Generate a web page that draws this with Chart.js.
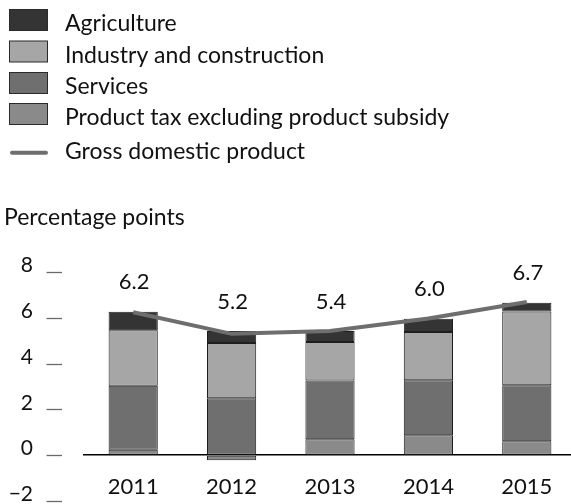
<!DOCTYPE html>
<html>
<head>
<meta charset="utf-8">
<script src="https://cdn.jsdelivr.net/npm/chart.js@4.4.1/dist/chart.umd.min.js"></script>
<style>
  html, body { margin: 0; padding: 0; background: #ffffff; overflow: hidden; }
  #wrap { position: relative; width: 576px; height: 504px; }
</style>
</head>
<body>
<div id="wrap"><canvas id="c"></canvas></div>
<script>
// ---- data ----
const categories = ['2011', '2012', '2013', '2014', '2015'];
const productTax = [0.24, -0.22, 0.70, 0.87, 0.61];
const services = [2.79, 2.49, 2.56, 2.40, 2.44];
const industry = [2.43, 2.41, 1.68, 2.11, 3.23];
const agriculture = [0.80, 0.52, 0.48, 0.58, 0.38];
const gdp = [6.24, 5.30, 5.42, 5.97, 6.69];
const gdpLabels = ['6.2', '5.2', '5.4', '6.0', '6.7'];
const yTickValues = [-2, 0, 2, 4, 6, 8];
const yAxisTitle = 'Percentage points';

const FONT = 'Lato, "Open Sans", sans-serif';
const TEXT = '#111111';

const colors = {
  agriculture: '#343434',
  industry: '#a6a6a6',
  services: '#6f6f6f',
  tax: '#8a8a8a',
  gdp: '#6e6e6e',
  border: '#1e1e1e'
};

const datasets = [
  { type: 'bar', label: 'Product tax excluding product subsidy', data: productTax, backgroundColor: colors.tax },
  { type: 'bar', label: 'Services', data: services, backgroundColor: colors.services },
  { type: 'bar', label: 'Industry and construction', data: industry, backgroundColor: colors.industry },
  { type: 'bar', label: 'Agriculture', data: agriculture, backgroundColor: colors.agriculture },
].map(d => Object.assign(d, {
  borderColor: colors.border, borderWidth: 1, borderSkipped: false,
  barPercentage: 0.5, categoryPercentage: 1.0, order: 1, stack: 'sectors'
}));
datasets.push({
  type: 'line', label: 'Gross domestic product', data: gdp,
  borderColor: colors.gdp, borderWidth: 4, pointRadius: 0, tension: 0,
  fill: false, order: 0
});

const legendOrder = ['Agriculture', 'Industry and construction', 'Services',
  'Product tax excluding product subsidy', 'Gross domestic product'];

const decorPlugin = {
  id: 'decor',
  afterDraw(chart) {
    const ctx = chart.ctx;
    const ys = chart.scales.y, xs = chart.scales.x;
    ctx.save();
    // legend
    ctx.font = '23px ' + FONT;
    ctx.fillStyle = TEXT;
    ctx.textBaseline = 'alphabetic';
    ctx.textAlign = 'left';
    const rowTops = [9.5, 41, 72.5, 103.5];
    const baselines = [30.7, 62.5, 94.2, 125, 159];
    legendOrder.forEach((name, i) => {
      const ds = chart.data.datasets.find(d => d.label === name);
      if (ds.type === 'bar') {
        ctx.fillStyle = ds.backgroundColor;
        ctx.fillRect(9.5, rowTops[i], 38, 21);
        ctx.strokeStyle = '#2a2a2a';
        ctx.lineWidth = 1;
        ctx.strokeRect(9.5, rowTops[i], 38, 21);
      } else {
        ctx.strokeStyle = ds.borderColor;
        ctx.lineWidth = 4;
        ctx.lineCap = 'round';
        ctx.beginPath();
        ctx.moveTo(12, 152.7);
        ctx.lineTo(46, 152.7);
        ctx.stroke();
        ctx.lineCap = 'butt';
      }
      ctx.fillStyle = TEXT;
      ctx.fillText(name, 65, baselines[i]);
    });
    // axis title
    ctx.fillText(yAxisTitle, 4, 225);
    // short y tick marks
    ctx.strokeStyle = '#6a6a6a';
    ctx.lineWidth = 1.3;
    ys.ticks.forEach(t => {
      const py = Math.round(ys.getPixelForValue(t.value)) + 0.5;
      ctx.beginPath();
      ctx.moveTo(46.5, py);
      ctx.lineTo(62, py);
      ctx.stroke();
    });
    // value labels above the bars
    ctx.font = '22px ' + FONT;
    ctx.fillStyle = TEXT;
    ctx.textAlign = 'center';
    ctx.textBaseline = 'middle';
    categories.forEach((c, i) => {
      let top = 0;
      chart.data.datasets.forEach(d => {
        if (d.type === 'bar' && d.data[i] > 0) top += d.data[i];
      });
      const px = xs.getPixelForValue(i);
      const py = ys.getPixelForValue(top);
      ctx.fillText(gdpLabels[i], px + 1, py - 29.5);
    });
    ctx.restore();
  }
};

new Chart(document.getElementById('c'), {
  data: { labels: categories, datasets },
  options: {
    responsive: true,
    maintainAspectRatio: false,
    animation: false,
    events: [],
    layout: { padding: { top: 272, left: 0, right: 0, bottom: 3 } },
    plugins: { legend: { display: false }, tooltip: { enabled: false }, title: { display: false } },
    scales: {
      x: {
        type: 'category',
        stacked: true,
        offset: true,
        position: { y: 0 },
        afterFit(scale) { scale.height = 0; },
        grid: { display: true, drawOnChartArea: false, drawTicks: false },
        border: { display: true, color: '#000000', width: 1.5 },
        ticks: { color: TEXT, font: { family: FONT, size: 22 }, padding: 18.5, maxRotation: 0 }
      },
      y: {
        type: 'linear',
        stacked: true,
        min: -2, max: 8,
        afterBuildTicks(scale) { scale.ticks = yTickValues.map(v => ({ value: v })); },
        afterFit(scale) { scale.width = 84; },
        grid: { display: true, drawOnChartArea: false, drawTicks: true, tickLength: 51, tickColor: 'rgba(0,0,0,0)' },
        border: { display: false },
        ticks: {
          color: TEXT, font: { family: FONT, size: 21 }, padding: 0,
          align: 'end', labelOffset: 4,
          callback: v => (v < 0 ? '\u2212' + Math.abs(v) : String(v))
        }
      }
    }
  },
  plugins: [decorPlugin]
});
</script>
</body>
</html>
